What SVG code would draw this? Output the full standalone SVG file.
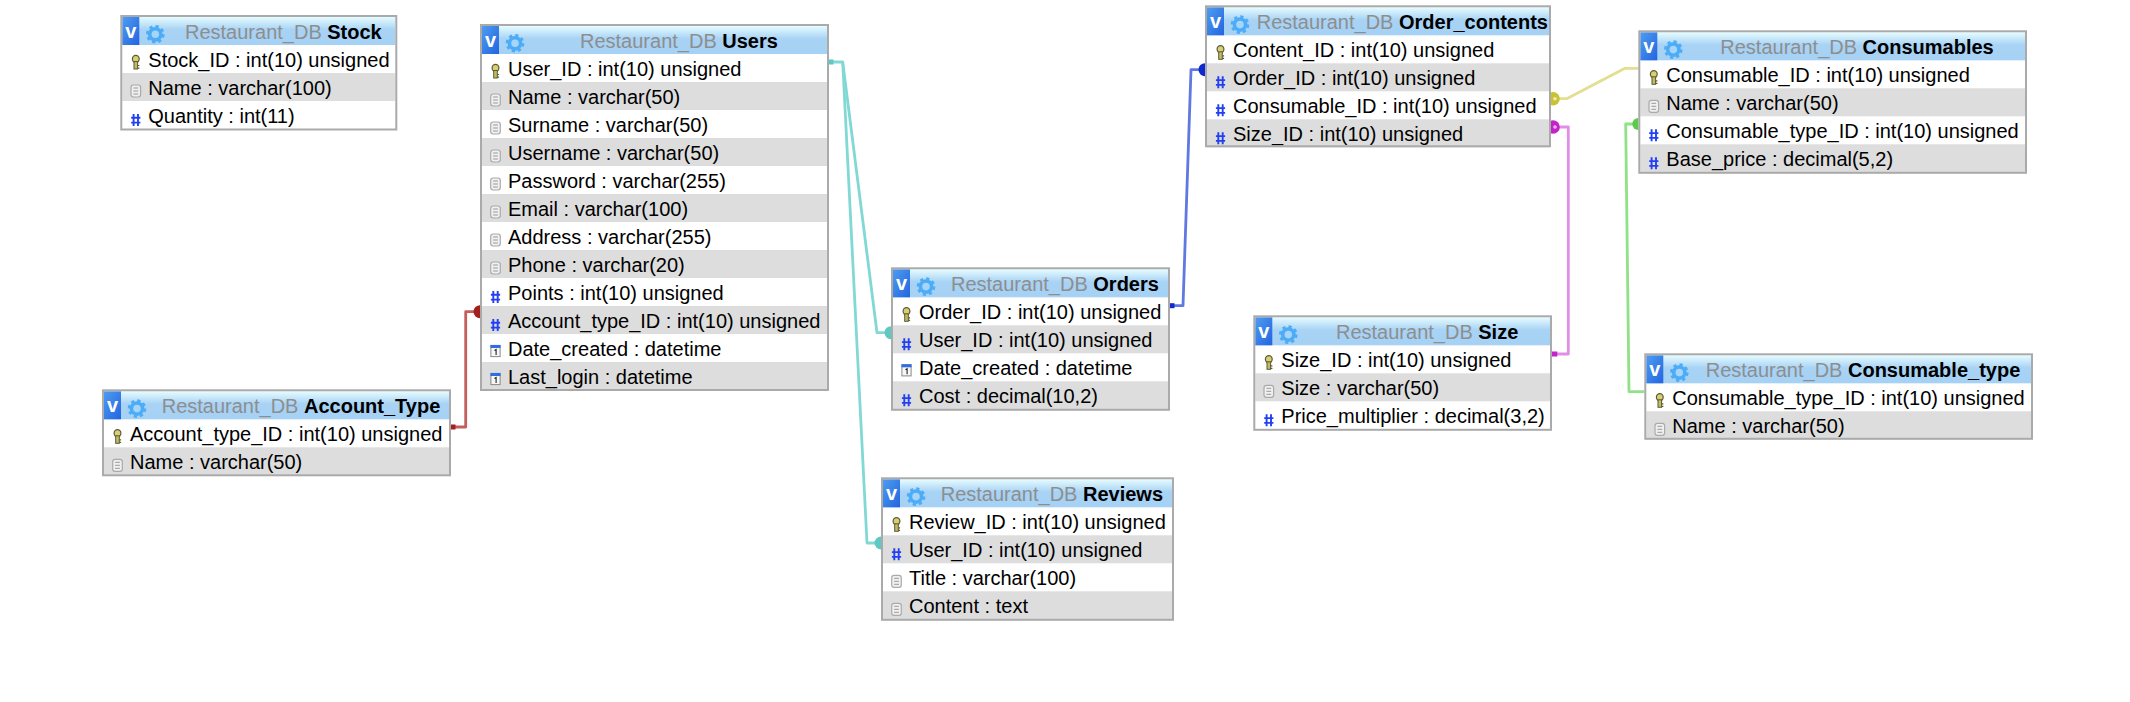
<svg xmlns="http://www.w3.org/2000/svg" width="2130" height="702" viewBox="0 0 2130 702">
<style>
text{font-family:"Liberation Sans",Arial,Helvetica,sans-serif;font-size:20px;fill:#000}
.db{fill:#8e8e8e}
.tn{font-weight:bold}
.v{font-weight:bold;fill:#fff;font-size:20px;text-anchor:middle}
.hd{fill:url(#hg)}
.vb{fill:url(#vg)}
.alt{fill:#ddd}
.bg{fill:#fff}
.bd{fill:none;stroke:#aaa;stroke-width:2}
.ln{fill:none;stroke-width:2.8;stroke-linejoin:round}
.teal{stroke:#82d8d4}.tealf{fill:#5cc9c5}
.red{stroke:#c4605c}.redf{fill:#a3201f}
.blue{stroke:#5f78e2}.bluef{fill:#1028cf}
.yel{stroke:#e2de92}.yelf{fill:#c9c232}
.mag{stroke:#e08ee6}.magf{fill:#c224c9}
.grn{stroke:#90e286}.grnf{fill:#5ccb4c}
</style>
<defs>
<linearGradient id="hg" x1="0" y1="0" x2="0" y2="1"><stop offset="0" stop-color="#e6fcff"/><stop offset="0.45" stop-color="#a8d3f5"/><stop offset="1" stop-color="#a5d1f4"/></linearGradient>
<linearGradient id="vg" x1="0" y1="0" x2="1" y2="1"><stop offset="0" stop-color="#4f9cf0"/><stop offset="1" stop-color="#2265e0"/></linearGradient>
<g id="gear"><circle r="5.6" fill="#a6d5f8" stroke="#4cacf7" stroke-width="3.6"/><circle r="8" fill="none" stroke="#4cacf7" stroke-width="2.6" stroke-dasharray="3.2 3.08"/></g>
<g id="key"><ellipse cx="0" cy="-3.5" rx="3.4" ry="3.6" fill="#d8cf70" stroke="#5a5a3a" stroke-width="1.2"/><rect x="-1.8" y="-1" width="3.6" height="7.5" fill="#c4bc5c" stroke="#5a5a3a" stroke-width="1"/><path d="M1.8 3h1.8M1.8 5.6h1.8" stroke="#5a5a3a" stroke-width="1.2"/></g>
<g id="doc"><rect x="-4.8" y="-6" width="9.6" height="12" rx="2.4" fill="#f0f0f0" stroke="#aaa" stroke-width="1.2"/><path d="M-2.4 -3h4.8M-2.4 0h4.8M-2.4 3h4.8" stroke="#999" stroke-width="1"/></g>
<g id="hash"><path d="M-2.2 -6V6M2.2 -6V6M-4.6 -2.2H4.6M-4.6 2.6H4.6" fill="none" stroke="#2340f2" stroke-width="1.9"/></g>
<g id="date"><rect x="-4.6" y="-5.6" width="9.2" height="11.2" fill="#f8f8f8" stroke="#888" stroke-width="1"/><rect x="-5" y="-6" width="10" height="3" fill="#2f6de8"/><path d="M-1 -0.5L0.6 -1.5V4" fill="none" stroke="#222" stroke-width="1.1"/></g>
</defs>

<g id="connectors">
<path class="ln teal" d="M829 62H842.7L877 332.7H890"/>
<path class="ln teal" d="M842.7 62L867 543H880"/>
<path class="ln red" d="M451 427H465.7V311.7H480"/>
<path class="ln blue" d="M1170 305.7H1183L1191 69.7H1205"/>
<path class="ln yel" d="M1551 98.7H1566.7L1625 68.3H1640"/>
<path class="ln mag" d="M1551 127H1568.3V354H1552"/>
<path class="ln grn" d="M1640 124H1625.7L1629 391.7H1646"/>
<rect class="tealf" x="829" y="59.5" width="4.5" height="5"/>
<circle class="tealf" cx="891" cy="332.7" r="6.5"/>
<circle class="tealf" cx="881" cy="543" r="6.5"/>
<rect class="redf" x="451" y="424.5" width="4.5" height="5"/>
<circle class="redf" cx="480" cy="311.7" r="6.5"/>
<rect class="bluef" x="1170" y="303.2" width="4.5" height="5"/>
<circle class="bluef" cx="1205" cy="69.7" r="6.5"/>
<circle class="yelf" cx="1553" cy="98.7" r="6.8"/>
<circle cx="1555" cy="98.7" r="1.8" fill="#eeeab0"/>
<circle class="magf" cx="1553" cy="127" r="6.8"/>
<circle cx="1555" cy="127" r="1.8" fill="#f0b0f4"/>
<rect class="magf" x="1552" y="351.5" width="5.3" height="5"/>
<circle class="grnf" cx="1638.3" cy="124" r="6"/>
</g>

<g id="node-stock" transform="translate(120.3 15)">
<rect class="bg" width="277" height="115.5"/>
<rect class="hd" x="2" y="2" width="273" height="28"/><rect class="vb" x="2" y="2" width="17" height="28"/>
<text class="v" x="10.5" y="22.5">v</text><use href="#gear" x="35" y="19.3"/>
<text x="64.7" y="23.5"><tspan class="db">Restaurant_DB </tspan><tspan class="tn">Stock</tspan></text>
<rect class="alt" x="2" y="58" width="273" height="28"/>
<use href="#key" x="15.5" y="47.5"/><text x="28" y="51.5">Stock_ID : int(10) unsigned</text>
<use href="#doc" x="15.5" y="76"/><text x="28" y="79.5">Name : varchar(100)</text>
<use href="#hash" x="15.5" y="105"/><text x="28" y="107.5">Quantity : int(11)</text>
<rect class="bd" x="1" y="1" width="275" height="113.5"/>
</g>

<g id="node-users" transform="translate(480 24)">
<rect class="bg" width="349" height="367"/>
<rect class="hd" x="2" y="2" width="345" height="28"/><rect class="vb" x="2" y="2" width="17" height="28"/>
<text class="v" x="10.5" y="22.5">v</text><use href="#gear" x="35" y="19.3"/>
<text x="100" y="23.5"><tspan class="db">Restaurant_DB </tspan><tspan class="tn">Users</tspan></text>
<rect class="alt" x="2" y="58" width="345" height="28"/><rect class="alt" x="2" y="114" width="345" height="28"/><rect class="alt" x="2" y="170" width="345" height="28"/><rect class="alt" x="2" y="226" width="345" height="28"/><rect class="alt" x="2" y="282" width="345" height="28"/><rect class="alt" x="2" y="338" width="345" height="28"/>
<use href="#key" x="15.5" y="47.5"/><text x="28" y="51.5">User_ID : int(10) unsigned</text>
<use href="#doc" x="15.5" y="76"/><text x="28" y="79.5">Name : varchar(50)</text>
<use href="#doc" x="15.5" y="104"/><text x="28" y="107.5">Surname : varchar(50)</text>
<use href="#doc" x="15.5" y="132"/><text x="28" y="135.5">Username : varchar(50)</text>
<use href="#doc" x="15.5" y="160"/><text x="28" y="163.5">Password : varchar(255)</text>
<use href="#doc" x="15.5" y="188"/><text x="28" y="191.5">Email : varchar(100)</text>
<use href="#doc" x="15.5" y="216"/><text x="28" y="219.5">Address : varchar(255)</text>
<use href="#doc" x="15.5" y="244"/><text x="28" y="247.5">Phone : varchar(20)</text>
<use href="#hash" x="15.5" y="273"/><text x="28" y="275.5">Points : int(10) unsigned</text>
<use href="#hash" x="15.5" y="301"/><text x="28" y="303.5">Account_type_ID : int(10) unsigned</text>
<use href="#date" x="15.5" y="327"/><text x="28" y="331.5">Date_created : datetime</text>
<use href="#date" x="15.5" y="355"/><text x="28" y="359.5">Last_login : datetime</text>
<rect class="bd" x="1" y="1" width="347" height="365"/>
</g>

<g id="node-account-type" transform="translate(102 389.3)">
<rect class="bg" width="349" height="87"/>
<rect class="hd" x="2" y="2" width="345" height="28"/><rect class="vb" x="2" y="2" width="17" height="28"/>
<text class="v" x="10.5" y="22.5">v</text><use href="#gear" x="35" y="19.3"/>
<text x="59.7" y="23.5"><tspan class="db">Restaurant_DB </tspan><tspan class="tn">Account_Type</tspan></text>
<rect class="alt" x="2" y="58" width="345" height="28"/>
<use href="#key" x="15.5" y="47.5"/><text x="28" y="51.5">Account_type_ID : int(10) unsigned</text>
<use href="#doc" x="15.5" y="76"/><text x="28" y="79.5">Name : varchar(50)</text>
<rect class="bd" x="1" y="1" width="347" height="85"/>
</g>

<g id="node-orders" transform="translate(891 267.3)">
<rect class="bg" width="279" height="143.5"/>
<rect class="hd" x="2" y="2" width="275" height="28"/><rect class="vb" x="2" y="2" width="17" height="28"/>
<text class="v" x="10.5" y="22.5">v</text><use href="#gear" x="35" y="19.3"/>
<text x="60" y="23.5"><tspan class="db">Restaurant_DB </tspan><tspan class="tn">Orders</tspan></text>
<rect class="alt" x="2" y="58" width="275" height="28"/><rect class="alt" x="2" y="114" width="275" height="28"/>
<use href="#key" x="15.5" y="47.5"/><text x="28" y="51.5">Order_ID : int(10) unsigned</text>
<use href="#hash" x="15.5" y="77"/><text x="28" y="79.5">User_ID : int(10) unsigned</text>
<use href="#date" x="15.5" y="103"/><text x="28" y="107.5">Date_created : datetime</text>
<use href="#hash" x="15.5" y="133"/><text x="28" y="135.5">Cost : decimal(10,2)</text>
<rect class="bd" x="1" y="1" width="277" height="141.5"/>
</g>

<g id="node-reviews" transform="translate(881 477.3)">
<rect class="bg" width="293" height="143.5"/>
<rect class="hd" x="2" y="2" width="289" height="28"/><rect class="vb" x="2" y="2" width="17" height="28"/>
<text class="v" x="10.5" y="22.5">v</text><use href="#gear" x="35" y="19.3"/>
<text x="59.7" y="23.5"><tspan class="db">Restaurant_DB </tspan><tspan class="tn">Reviews</tspan></text>
<rect class="alt" x="2" y="58" width="289" height="28"/><rect class="alt" x="2" y="114" width="289" height="28"/>
<use href="#key" x="15.5" y="47.5"/><text x="28" y="51.5">Review_ID : int(10) unsigned</text>
<use href="#hash" x="15.5" y="77"/><text x="28" y="79.5">User_ID : int(10) unsigned</text>
<use href="#doc" x="15.5" y="104"/><text x="28" y="107.5">Title : varchar(100)</text>
<use href="#doc" x="15.5" y="132"/><text x="28" y="135.5">Content : text</text>
<rect class="bd" x="1" y="1" width="291" height="141.5"/>
</g>

<g id="node-order-contents" transform="translate(1205 5.3)">
<rect class="bg" width="346" height="142"/>
<rect class="hd" x="2" y="2" width="342" height="28"/><rect class="vb" x="2" y="2" width="17" height="28"/>
<text class="v" x="10.5" y="22.5">v</text><use href="#gear" x="35" y="19.3"/>
<text x="51.7" y="23.5"><tspan class="db">Restaurant_DB </tspan><tspan class="tn">Order_contents</tspan></text>
<rect class="alt" x="2" y="58" width="342" height="28"/><rect class="alt" x="2" y="114" width="342" height="28"/>
<use href="#key" x="15.5" y="47.5"/><text x="28" y="51.5">Content_ID : int(10) unsigned</text>
<use href="#hash" x="15.5" y="77"/><text x="28" y="79.5">Order_ID : int(10) unsigned</text>
<use href="#hash" x="15.5" y="105"/><text x="28" y="107.5">Consumable_ID : int(10) unsigned</text>
<use href="#hash" x="15.5" y="133"/><text x="28" y="135.5">Size_ID : int(10) unsigned</text>
<rect class="bd" x="1" y="1" width="344" height="140"/>
</g>

<g id="node-size" transform="translate(1253.3 315.3)">
<rect class="bg" width="298.7" height="115.5"/>
<rect class="hd" x="2" y="2" width="294.7" height="28"/><rect class="vb" x="2" y="2" width="17" height="28"/>
<text class="v" x="10.5" y="22.5">v</text><use href="#gear" x="35" y="19.3"/>
<text x="82.7" y="23.5"><tspan class="db">Restaurant_DB </tspan><tspan class="tn">Size</tspan></text>
<rect class="alt" x="2" y="58" width="294.7" height="28"/>
<use href="#key" x="15.5" y="47.5"/><text x="28" y="51.5">Size_ID : int(10) unsigned</text>
<use href="#doc" x="15.5" y="76"/><text x="28" y="79.5">Size : varchar(50)</text>
<use href="#hash" x="15.5" y="105"/><text x="28" y="107.5">Price_multiplier : decimal(3,2)</text>
<rect class="bd" x="1" y="1" width="296.7" height="113.5"/>
</g>

<g id="node-consumables" transform="translate(1638.3 30.3)">
<rect class="bg" width="388.7" height="143.5"/>
<rect class="hd" x="2" y="2" width="384.7" height="28"/><rect class="vb" x="2" y="2" width="17" height="28"/>
<text class="v" x="10.5" y="22.5">v</text><use href="#gear" x="35" y="19.3"/>
<text x="82" y="23.5"><tspan class="db">Restaurant_DB </tspan><tspan class="tn">Consumables</tspan></text>
<rect class="alt" x="2" y="58" width="384.7" height="28"/><rect class="alt" x="2" y="114" width="384.7" height="28"/>
<use href="#key" x="15.5" y="47.5"/><text x="28" y="51.5">Consumable_ID : int(10) unsigned</text>
<use href="#doc" x="15.5" y="76"/><text x="28" y="79.5">Name : varchar(50)</text>
<use href="#hash" x="15.5" y="105"/><text x="28" y="107.5">Consumable_type_ID : int(10) unsigned</text>
<use href="#hash" x="15.5" y="133"/><text x="28" y="135.5">Base_price : decimal(5,2)</text>
<rect class="bd" x="1" y="1" width="386.7" height="141.5"/>
</g>

<g id="node-consumable-type" transform="translate(1644.3 353.3)">
<rect class="bg" width="388.7" height="86.5"/>
<rect class="hd" x="2" y="2" width="384.7" height="28"/><rect class="vb" x="2" y="2" width="17" height="28"/>
<text class="v" x="10.5" y="22.5">v</text><use href="#gear" x="35" y="19.3"/>
<text x="61.4" y="23.5"><tspan class="db">Restaurant_DB </tspan><tspan class="tn">Consumable_type</tspan></text>
<rect class="alt" x="2" y="58" width="384.7" height="28"/>
<use href="#key" x="15.5" y="47.5"/><text x="28" y="51.5">Consumable_type_ID : int(10) unsigned</text>
<use href="#doc" x="15.5" y="76"/><text x="28" y="79.5">Name : varchar(50)</text>
<rect class="bd" x="1" y="1" width="386.7" height="84.5"/>
</g>
</svg>
